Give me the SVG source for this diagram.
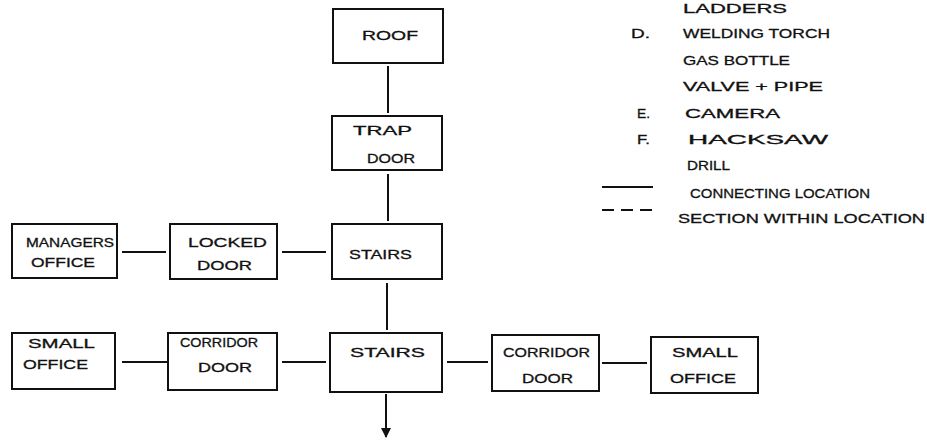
<svg xmlns="http://www.w3.org/2000/svg" width="927" height="441" viewBox="0 0 927 441">
<defs>
<marker id="arr" viewBox="0 0 10 10" refX="9" refY="5" markerWidth="5" markerHeight="5" orient="auto" markerUnits="strokeWidth">
<path d="M0,0 L10,5 L0,10 z" fill="#111"/>
</marker>
<style>
.box{fill:#fff;stroke:#111;stroke-width:2}
.t{font-family:"Liberation Sans","DejaVu Sans",sans-serif;font-size:13px;fill:#111;stroke:#111;stroke-width:0.3}
.lt{font-family:"Liberation Sans","DejaVu Sans",sans-serif;font-size:13px;fill:#111;stroke:#111;stroke-width:0.3}
.c{stroke:#111;stroke-width:2;fill:none}
</style>
</defs>
<rect width="927" height="441" fill="#fff"/>
<g id="connectors">
<line class="c" x1="388" y1="66" x2="388" y2="113"/>
<line class="c" x1="388" y1="174" x2="388" y2="221"/>
<line class="c" x1="387" y1="283" x2="387" y2="330"/>
<line class="c" x1="122" y1="252" x2="166" y2="252"/>
<line class="c" x1="282" y1="252" x2="326" y2="252"/>
<line class="c" x1="122" y1="362" x2="167" y2="362"/>
<line class="c" x1="282" y1="362" x2="326" y2="362"/>
<line class="c" x1="447" y1="362" x2="488" y2="362"/>
<line class="c" x1="602" y1="363" x2="647" y2="363"/>
<line class="c" x1="386" y1="394" x2="386" y2="437" marker-end="url(#arr)"/>
</g>
<g id="roof"><rect class="box" x="333" y="9" width="110" height="54"/><text class="t" x="362" y="40" textLength="56" lengthAdjust="spacingAndGlyphs" font-size="16">ROOF</text></g>
<g id="trapdoor"><rect class="box" x="332" y="116" width="110" height="54"/><text class="t" x="353" y="135" textLength="59" lengthAdjust="spacingAndGlyphs">TRAP</text><text class="t" x="367" y="163" textLength="48" lengthAdjust="spacingAndGlyphs">DOOR</text></g>
<g id="stairs1"><rect class="box" x="332" y="224" width="110" height="55"/><text class="t" x="349" y="259" textLength="63" lengthAdjust="spacingAndGlyphs">STAIRS</text></g>
<g id="managers"><rect class="box" x="12" y="224" width="105" height="54"/><text class="t" x="26" y="247" textLength="88" lengthAdjust="spacingAndGlyphs" font-size="11">MANAGERS</text><text class="t" x="31" y="267" textLength="64" lengthAdjust="spacingAndGlyphs" font-size="11">OFFICE</text></g>
<g id="lockeddoor"><rect class="box" x="170" y="224" width="107" height="55"/><text class="t" x="188" y="247" textLength="79" lengthAdjust="spacingAndGlyphs">LOCKED</text><text class="t" x="197" y="270" textLength="55" lengthAdjust="spacingAndGlyphs">DOOR</text></g>
<g id="smalloffice1"><rect class="box" x="12" y="333" width="103" height="56"/><text class="t" x="28" y="348" textLength="67" lengthAdjust="spacingAndGlyphs">SMALL</text><text class="t" x="23" y="369" textLength="65" lengthAdjust="spacingAndGlyphs">OFFICE</text></g>
<g id="corridordoor1"><rect class="box" x="168" y="333" width="109" height="57"/><text class="t" x="180" y="347" textLength="78" lengthAdjust="spacingAndGlyphs">CORRIDOR</text><text class="t" x="198" y="372" textLength="54" lengthAdjust="spacingAndGlyphs">DOOR</text></g>
<g id="stairs2"><rect class="box" x="330" y="333" width="112" height="59"/><text class="t" x="350" y="357" textLength="75" lengthAdjust="spacingAndGlyphs">STAIRS</text></g>
<g id="corridordoor2"><rect class="box" x="492" y="335" width="107" height="56"/><text class="t" x="503" y="357" textLength="87" lengthAdjust="spacingAndGlyphs">CORRIDOR</text><text class="t" x="522" y="383" textLength="51" lengthAdjust="spacingAndGlyphs">DOOR</text></g>
<g id="smalloffice2"><rect class="box" x="651" y="337" width="107" height="56"/><text class="t" x="672" y="357" textLength="66" lengthAdjust="spacingAndGlyphs">SMALL</text><text class="t" x="670" y="383" textLength="66" lengthAdjust="spacingAndGlyphs">OFFICE</text></g>
<g id="legend">
<text class="lt" x="683" y="13" textLength="104" lengthAdjust="spacingAndGlyphs">LADDERS</text>
<text class="lt" x="631" y="38" textLength="19" lengthAdjust="spacingAndGlyphs">D.</text>
<text class="lt" x="683" y="38" textLength="147" lengthAdjust="spacingAndGlyphs">WELDING TORCH</text>
<text class="lt" x="683" y="65" textLength="107" lengthAdjust="spacingAndGlyphs">GAS BOTTLE</text>
<text class="lt" x="683" y="91" textLength="140" lengthAdjust="spacingAndGlyphs">VALVE + PIPE</text>
<text class="lt" x="637" y="118" textLength="13" lengthAdjust="spacingAndGlyphs">E.</text>
<text class="lt" x="685" y="118" textLength="95" lengthAdjust="spacingAndGlyphs">CAMERA</text>
<text class="lt" x="637" y="144" textLength="13" lengthAdjust="spacingAndGlyphs">F.</text>
<text class="lt" x="688" y="144" textLength="140" lengthAdjust="spacingAndGlyphs">HACKSAW</text>
<text class="lt" x="687" y="170" textLength="43" lengthAdjust="spacingAndGlyphs">DRILL</text>
<line class="c" x1="602" y1="187" x2="653" y2="187"/>
<text class="lt" x="690" y="198" textLength="180" lengthAdjust="spacingAndGlyphs">CONNECTING LOCATION</text>
<line class="c" x1="602" y1="210" x2="653" y2="210" stroke-dasharray="12,7"/>
<text class="lt" x="678" y="223" textLength="247" lengthAdjust="spacingAndGlyphs">SECTION WITHIN LOCATION</text>
</g>
</svg>
